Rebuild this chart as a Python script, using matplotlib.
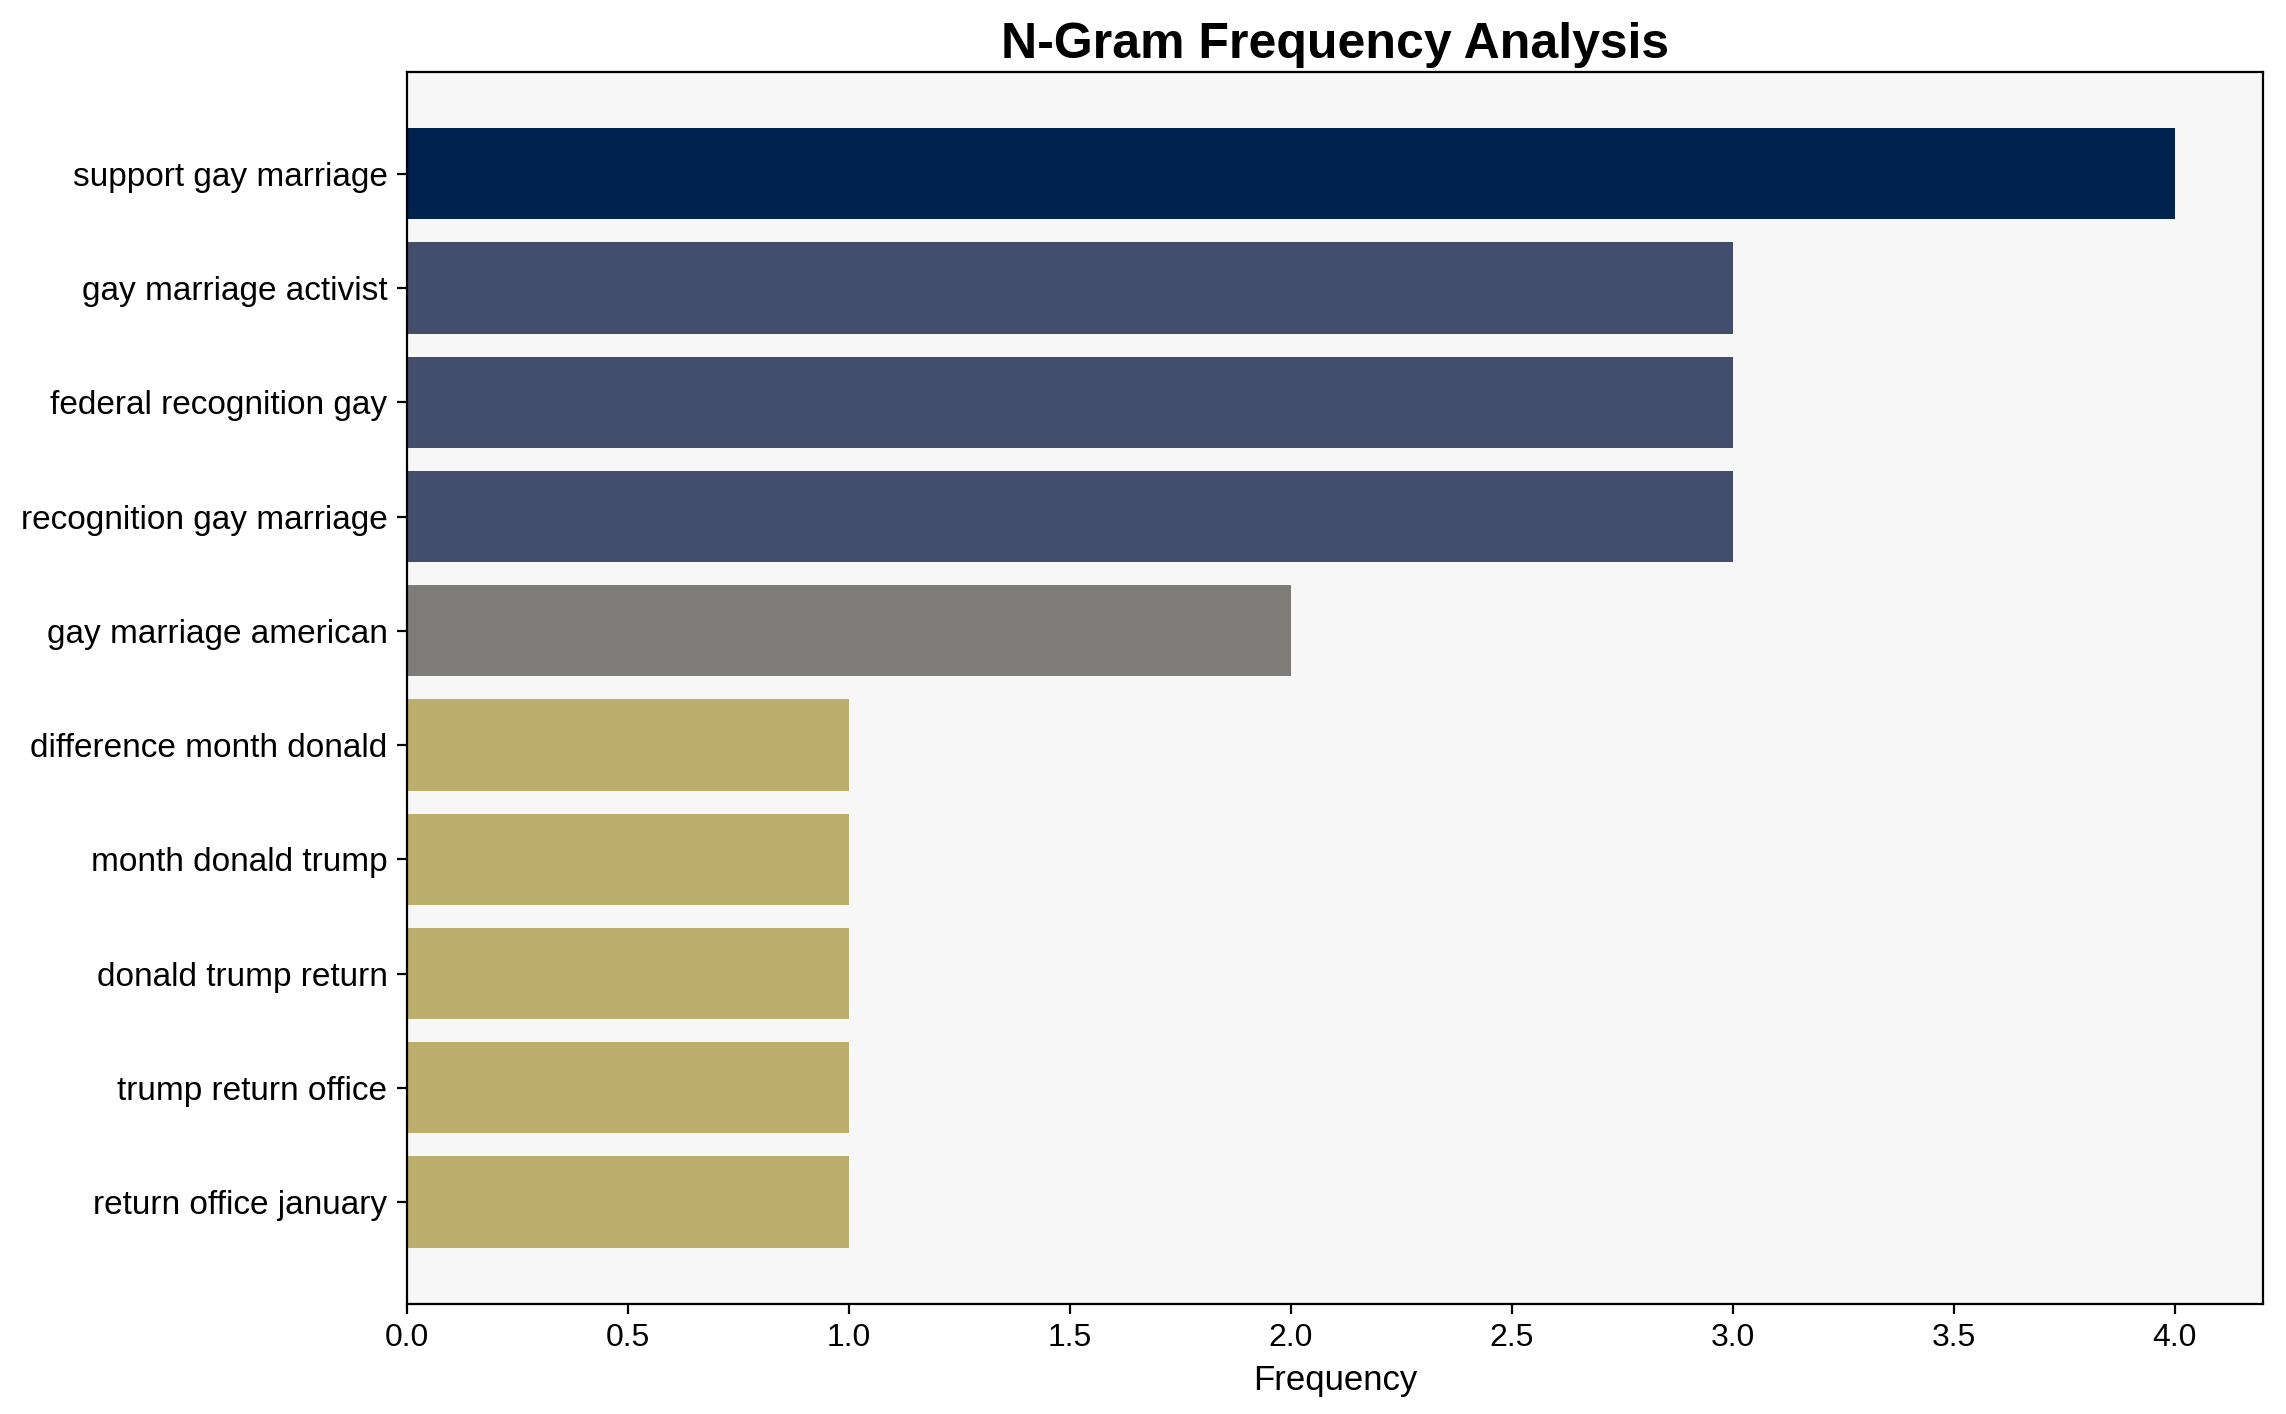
import numpy as np
import matplotlib.pyplot as plt

plt.rcParams['font.family'] = ['Liberation Sans', 'DejaVu Sans']

# n-grams and their counts, top to bottom
ngrams = ['support gay marriage', 'gay marriage activist', 'federal recognition gay',
          'recognition gay marriage', 'gay marriage american', 'difference month donald',
          'month donald trump', 'donald trump return', 'trump return office',
          'return office january']
counts = [4, 3, 3, 3, 2, 1, 1, 1, 1, 1]


def plot_ngrams():
    fig, ax = plt.subplots(figsize=(11.43, 7.07), dpi=200)
    vals = np.array(counts)
    colors = plt.cm.cividis(1 - vals / vals.max())
    y = np.arange(len(ngrams))
    ax.barh(y, vals, color=colors, height=0.8)
    ax.set_yticks(y)
    ax.set_yticklabels(ngrams, fontsize=12)
    ax.invert_yaxis()
    ax.set_facecolor('#f7f7f7')
    ax.tick_params(axis='x', labelsize=11.5)
    ax.set_xlabel('Frequency', fontsize=12.5)
    ax.set_title('N-Gram Frequency Analysis', fontsize=18, fontweight='bold', pad=5)
    plt.tight_layout()
    fig.subplots_adjust(left=0.178, right=0.990, top=0.949, bottom=0.078)
    plt.savefig('out.png', dpi=200)


if __name__ == '__main__':
    plot_ngrams()
